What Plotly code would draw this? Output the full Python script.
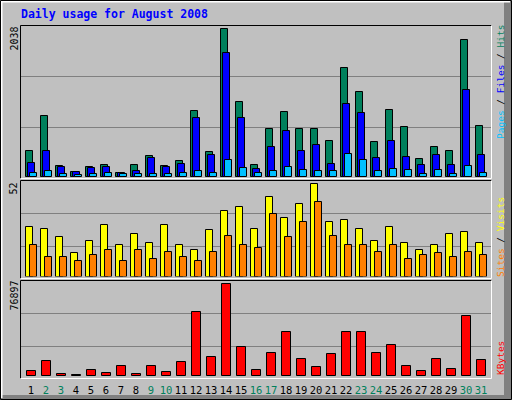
import plotly.graph_objects as go

days = list(range(1, 32))
weekend_days = [2, 3, 9, 10, 16, 17, 23, 24, 30, 31]

hits = [362, 845, 156, 73, 142, 170, 62, 170, 294, 156, 225, 913, 349, 2038, 1037, 170,
        666, 899, 666, 666, 500, 1505, 1175, 486, 927, 693, 252, 417, 362, 1891, 707]
files = [197, 362, 142, 70, 128, 142, 58, 87, 266, 142, 183, 817, 307, 1712, 817, 114,
         417, 638, 362, 445, 183, 1009, 885, 266, 500, 280, 170, 307, 170, 1202, 307]
pages = [60, 87, 46, 32, 46, 60, 46, 46, 46, 46, 60, 87, 60, 238, 128, 60,
         87, 142, 101, 87, 87, 321, 238, 87, 114, 101, 46, 101, 46, 156, 60]
visits = [28, 27, 22, 13, 20, 29, 18, 24, 19, 29, 18, 15, 26, 37, 39, 27,
          45, 33, 41, 52, 31, 32, 27, 20, 28, 19, 15, 18, 24, 25, 19]
sites = [18, 11, 11, 9, 12, 15, 9, 15, 10, 14, 11, 9, 14, 23, 18, 16,
         35, 22, 31, 42, 23, 18, 18, 14, 18, 10, 12, 13, 11, 14, 12]
kbytes = [4490, 12908, 1964, 900, 5332, 2806, 8699, 1964, 8699, 3648, 12066, 53314, 16275, 76897, 24693, 5332,
          19642, 37320, 14591, 7857, 18800, 37320, 37320, 19642, 26376, 8699, 4490, 14591, 6173, 49947, 13749]

W, H = 512, 400
PX = 15.0  # pixels per day


def xp(px):
    return px / W


def yp(py):
    return 1 - py / H


C_HITS = "#00805c"
C_FILES = "#0000ff"
C_PAGES = "#00c0ff"
C_VISITS = "#ffff00"
C_SITES = "#ff8000"
C_KB = "#ff0000"
BG = "#c0c0c0"
GRID = "#808080"
FONT = "DejaVu Sans Mono"

fig = go.Figure()


def bar(y, color, yaxis, off_px, w_px):
    fig.add_trace(go.Bar(
        x=days, y=y, xaxis="x", yaxis=yaxis,
        offset=off_px / PX, width=w_px / PX,
        marker=dict(color=color, line=dict(color="#000000", width=1)),
        hoverinfo="skip", showlegend=False))


bar(hits, C_HITS, "y", -5.5, 7.2)
bar(files, C_FILES, "y", -3.5, 7.2)
bar(pages, C_PAGES, "y", -1.5, 7.2)
bar(visits, C_VISITS, "y2", -5.5, 7.7)
bar(sites, C_SITES, "y2", -1.5, 7.7)
bar(kbytes, C_KB, "y3", -4.5, 9.7)

ticktext = [f'<span style="color:{C_HITS if d in weekend_days else "#000000"}">{d}</span>' for d in days]

# panel geometry (pixels)
top_p = (26, 177)
mid_p = (181, 276.5)
bot_p = (281, 376)

hmax_top = max(hits) * (top_p[1] - top_p[0]) / (top_p[1] - 29)
hmax_mid = max(visits) * (mid_p[1] - mid_p[0]) / (mid_p[1] - 184.3)
hmax_bot = max(kbytes) * (bot_p[1] - bot_p[0]) / (bot_p[1] - 284.3)


def yaxis_cfg(p, rmax, grid_py):
    vals = [rmax * (p[1] - g) / (p[1] - p[0]) for g in grid_py]
    return dict(domain=[yp(p[1]), yp(p[0])], range=[0, rmax], showticklabels=False,
                tickvals=vals, showgrid=True, gridcolor=GRID, gridwidth=1.2,
                zeroline=False, showline=False, ticks="", fixedrange=True)


fig.update_layout(
    width=W, height=H,
    margin=dict(l=0, r=0, t=0, b=0),
    paper_bgcolor=BG, plot_bgcolor=BG,
    barmode="overlay",
    bargap=0,
    font=dict(family=FONT, size=10, color="#000000"),
    xaxis=dict(domain=[xp(21), xp(491)], range=[(21 - 16) / PX, (491 - 16) / PX],
               anchor="y3", tickvals=days, ticktext=ticktext, showgrid=False,
               zeroline=False, showline=False, ticks="", ticklabelstandoff=6,
               tickfont=dict(family=FONT, size=10.5), tickangle=0, fixedrange=True),
    yaxis=yaxis_cfg(top_p, hmax_top, [127.3, 76.5]),
    yaxis2=yaxis_cfg(mid_p, hmax_mid, [246.5, 213.5]),
    yaxis3=yaxis_cfg(bot_p, hmax_bot, [346.5, 313.5]),
)

shapes = []


def line(x0, y0, x1, y1, color, w=1):
    shapes.append(dict(type="line", xref="paper", yref="paper",
                       x0=xp(x0), y0=yp(y0), x1=xp(x1), y1=yp(y1),
                       line=dict(color=color, width=w), layer="above"))


# outer 3D frame
shapes.append(dict(type="rect", xref="paper", yref="paper", x0=xp(504), x1=xp(511), y0=yp(1), y1=yp(399),
                   fillcolor=GRID, line=dict(width=0), layer="above"))
shapes.append(dict(type="rect", xref="paper", yref="paper", x0=xp(1), x1=xp(511), y0=yp(395), y1=yp(399),
                   fillcolor=GRID, line=dict(width=0), layer="above"))
line(1, 1.5, 510, 1.5, "#ffffff", 2)
line(1.5, 1, 1.5, 398, "#ffffff", 2)
shapes.append(dict(type="rect", xref="paper", yref="paper", x0=xp(0.5), x1=xp(511.5), y0=yp(0.5), y1=yp(399.5),
                   line=dict(color="#000000", width=1), layer="above"))

# panel borders (inset)
for (t, b) in [(25.5, 178.5), (180.5, 278.5), (280.5, 378.5)]:
    line(20.5, t, 491.5, t, "#000000")
    line(20.5, t, 20.5, b, "#000000")
    line(20.5, b, 491.5, b, "#ffffff")
    line(491.5, t, 491.5, b, "#ffffff")

fig.update_layout(shapes=shapes)

ann = []
ann.append(dict(text="<b>Daily usage for August 2008</b>", x=xp(19), y=yp(14), xref="paper", yref="paper",
                xanchor="left", yanchor="middle", showarrow=False,
                font=dict(family=FONT, size=11.5, color="#0000ff")))

for txt, cy in [(str(max(hits)), 39), (str(max(visits)), 189), (str(max(kbytes)), 296)]:
    ann.append(dict(text=txt, x=xp(13.5), y=yp(cy), xref="paper", yref="paper", textangle=-90,
                    xanchor="center", yanchor="middle", showarrow=False,
                    font=dict(family=FONT, size=10, color="#000000")))

lab1 = (f'<span style="color:{C_PAGES}">Pages</span> / '
        f'<span style="color:{C_FILES}">Files</span> / '
        f'<span style="color:{C_HITS}">Hits</span>')
lab2 = (f'<span style="color:{C_SITES}">Sites</span> / '
        f'<span style="color:{C_VISITS}">Visits</span>')
lab3 = f'<span style="color:{C_KB}">KBytes</span>'
for txt, cy in [(lab1, 82.5), (lab2, 237.5), (lab3, 358.5)]:
    ann.append(dict(text=txt, x=xp(500.5), y=yp(cy), xref="paper", yref="paper", textangle=-90,
                    xanchor="center", yanchor="middle", showarrow=False,
                    font=dict(family=FONT, size=9.5, color="#000000")))

fig.update_layout(annotations=ann)

fig.write_html("out.html")
